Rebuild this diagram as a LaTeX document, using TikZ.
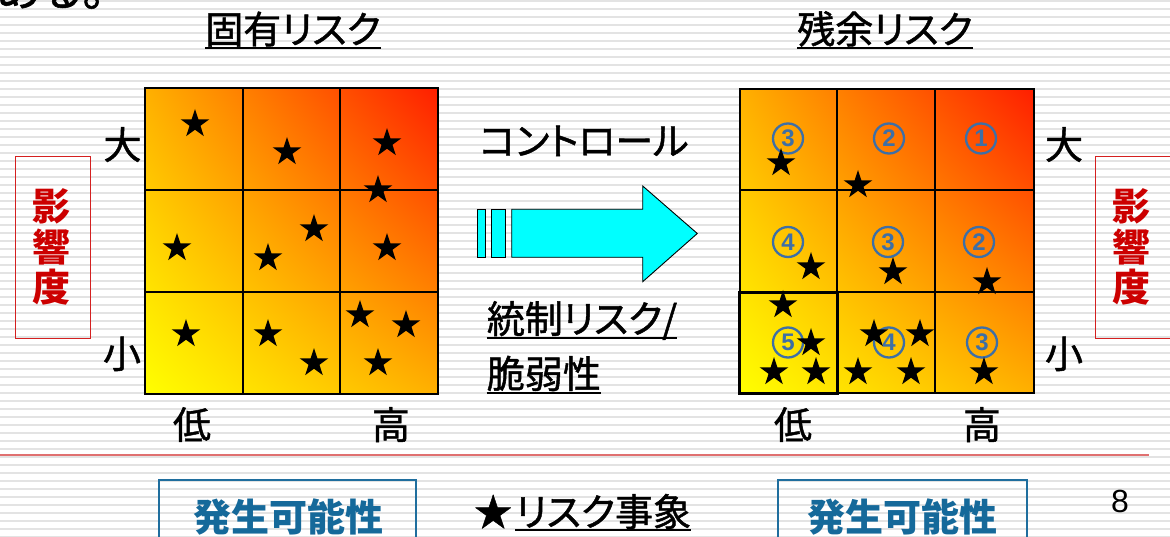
\documentclass[tikz,border=0pt]{standalone}
\usepackage{fontspec}
\setmainfont{Liberation Sans}
\newfontfamily\cjk[RawFeature=+palt, FakeBold=1.2]{Noto Sans CJK JP}
\newfontfamily\cjkb[RawFeature=+palt]{Noto Sans CJK JP}
\usetikzlibrary{shapes.geometric,shadings}
\newcommand\myfs[1]{\fontsize{#1}{#1}\selectfont}
\definecolor{stripe}{HTML}{E3E3E3}
\definecolor{gyellow}{HTML}{FFFF00}
\definecolor{gred}{HTML}{FF1E00}
\definecolor{gorange}{HTML}{FFB000}
\definecolor{numblue}{HTML}{3E6FA6}
\definecolor{boxblue}{HTML}{1F6E9E}
\definecolor{txtblue}{HTML}{15699A}
\definecolor{boxred}{HTML}{D42020}
\definecolor{txtred}{HTML}{CC0000}
\definecolor{linered}{HTML}{E07070}
\definecolor{arrowcyan}{HTML}{00FFFF}
\tikzset{
  starmark/.style={star, star points=5, star point ratio=2.618, fill=black, draw=none, minimum size=30pt, inner sep=0pt},
  numc/.style={circle, draw=numblue, line width=2.3pt, minimum size=30pt, inner sep=0pt, text=numblue, font=\bfseries\myfs{24}},
  lab/.style={inner sep=0pt, anchor=base, font=\cjk\myfs{38}},
  vlab/.style={inner sep=0pt, align=center, text=txtred, font=\cjkb\bfseries\fontsize{38}{40.5}\selectfont},
  blab/.style={inner sep=0pt, anchor=base, text=txtblue, font=\cjkb\bfseries\myfs{38}},
  uline/.style={line width=2pt, black},
  gridline/.style={line width=1.6pt, black},
  redbox/.style={draw=boxred, line width=1.5pt},
  bluebox/.style={draw=boxblue, line width=2pt},
  cyanpart/.style={fill=arrowcyan, draw=black, line width=0.9pt},
}
\begin{document}
\begin{tikzpicture}[x=1pt,y=-1pt]
\useasboundingbox (0,0) rectangle (1170,537);
\fill[white] (0,0) rectangle (1170,537);
\foreach \k in {0,...,67} \fill[stripe] (0,{8*\k}) rectangle (1170,{8*\k+1.8});

% previous text, cut off at the top
\node[font=\cjk\myfs{46}, anchor=base west, inner sep=0pt] (prev) at (-4,6) {ある。};

% titles
\node[lab] (tl) at (293,43.5) {固有リスク};
\node[lab] (tr) at (885,43.5) {残余リスク};
\draw[uline] ([yshift=-4.5pt]tl.base west) -- ([yshift=-4.5pt]tl.base east);
\draw[uline] ([yshift=-4.5pt]tr.base west) -- ([yshift=-4.5pt]tr.base east);

% left grid
\shade[lower left=gyellow, upper right=gred, upper left=gorange, lower right=gorange] (145,88) rectangle (438,394);
\draw[gridline] (243,88) -- (243,394);
\draw[gridline] (340,88) -- (340,394);
\draw[gridline] (145,190) -- (438,190);
\draw[gridline] (145,292) -- (438,292);
\draw[gridline, line width=2pt] (145,88) rectangle (438,394);

\node[starmark] (ls1) at (195,124) {};
\node[starmark] (ls2) at (287,152) {};
\node[starmark] (ls3) at (387,143) {};
\node[starmark] (ls4) at (378,190) {};
\node[starmark] (ls5) at (177,248) {};
\node[starmark] (ls6) at (314,229) {};
\node[starmark] (ls7) at (268,258) {};
\node[starmark] (ls8) at (387,248) {};
\node[starmark] (ls9) at (186,334) {};
\node[starmark] (ls10) at (268,334) {};
\node[starmark] (ls11) at (314,363) {};
\node[starmark] (ls12) at (360,315) {};
\node[starmark] (ls13) at (406,325) {};
\node[starmark] (ls14) at (378,363) {};

% right grid
\shade[lower left=gyellow, upper right=gred, upper left=gorange, lower right=gorange] (740,89) rectangle (1034,393);
\draw[gridline] (837,89) -- (837,393);
\draw[gridline] (935,89) -- (935,393);
\draw[gridline] (740,190) -- (1034,190);
\draw[gridline] (740,292) -- (1034,292);
\draw[gridline, line width=2pt] (740,89) rectangle (1034,393);
\draw[line width=3pt] (739,292.5) rectangle (837,393.5);

\node[numc] (n11) at (788,138.5) {3};
\node[numc] (n12) at (889,138.5) {2};
\node[numc] (n13) at (981,138.5) {1};
\node[numc] (n21) at (788,242) {4};
\node[numc] (n22) at (888,242) {3};
\node[numc] (n23) at (979,242) {2};
\node[numc] (n31) at (788,342.5) {5};
\node[numc] (n32) at (889,342.5) {4};
\node[numc] (n33) at (982,342.5) {3};

\node[starmark] (rs1) at (781,163) {};
\node[starmark] (rs2) at (858,185) {};
\node[starmark] (rs3) at (811,267) {};
\node[starmark] (rs4) at (893,272) {};
\node[starmark] (rs5) at (987,282) {};
\node[starmark] (rs6) at (783,305) {};
\node[starmark] (rs7) at (811,343) {};
\node[starmark] (rs8) at (774,372) {};
\node[starmark] (rs9) at (816,372) {};
\node[starmark] (rs10) at (874,334) {};
\node[starmark] (rs11) at (920,334) {};
\node[starmark] (rs12) at (858,372) {};
\node[starmark] (rs13) at (911,372) {};
\node[starmark] (rs14) at (984,372) {};

% axis labels
\node[lab] (bigl) at (122.5,159) {大};
\node[lab] (smalll) at (122,368) {小};
\node[lab] (bigr) at (1064,159) {大};
\node[lab] (smallr) at (1064,368) {小};
\node[lab] (lowl) at (192,439) {低};
\node[lab] (highl) at (391,439) {高};
\node[lab] (lowr) at (793,439) {低};
\node[lab] (highr) at (982,439) {高};

% impact boxes
\draw[redbox] (15.7,156.7) rectangle (90.3,338.3);
\node[vlab] (eil) at (51,247) {影\\響\\度};
\draw[redbox] (1095.7,156.7) rectangle (1175,338.3);
\node[vlab] (eir) at (1131,247) {影\\響\\度};

% control arrow
\node[lab] (ctrl) at (584,155) {コントロール};
\draw[cyanpart] (477.7,209.3) rectangle (485,257.3);
\draw[cyanpart] (491.7,209.3) rectangle (505.7,257.3);
\draw[cyanpart] (511.7,209.3) -- (642.7,209.3) -- (642.7,186) -- (697.3,233.5) -- (642.7,281.7) -- (642.7,257.3) -- (511.7,257.3) -- cycle;

\node[lab, anchor=base west] (tousei) at (486.7,333) {統制リスク/};
\draw[uline] ([yshift=-5pt]tousei.base west) -- ([yshift=-5pt]tousei.base east);
\node[lab, anchor=base west] (zei) at (486.7,388) {脆弱性};
\draw[uline] ([yshift=-5pt]zei.base west) -- ([yshift=-5pt]zei.base east);

% separator
\draw[linered, line width=2.5pt] (0,455) -- (1149,455);

% bottom row
\draw[bluebox] (159,480) rectangle (416,560);
\node[blab] (hl) at (288,531) {発生可能性};
\draw[bluebox] (778,480) rectangle (1027,560);
\node[blab] (hr) at (902,531) {発生可能性};
\node[lab, anchor=base west] (legstar) at (474,526) {★};
\node[lab, anchor=base west] (legtxt) at ([xshift=3pt]legstar.base east) {リスク事象};
\draw[uline] ([yshift=-4pt]legtxt.base west) -- ([yshift=-4pt]legtxt.base east);
\node[inner sep=0pt, anchor=base, font=\myfs{32}] (pg) at (1120,512) {8};
\end{tikzpicture}
\end{document}
